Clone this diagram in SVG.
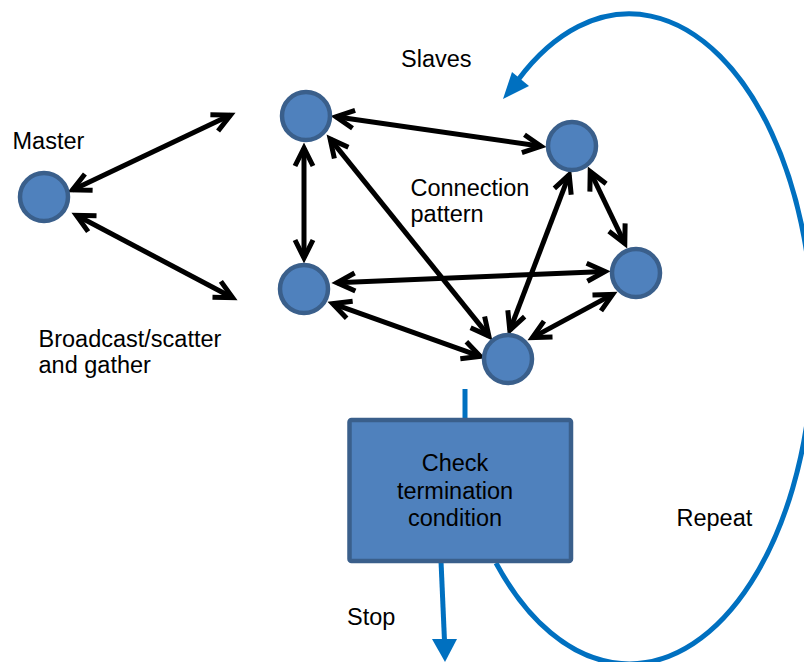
<svg xmlns="http://www.w3.org/2000/svg" width="804" height="662" viewBox="0 0 804 662">
<style>
  .node { fill: #4F81BD; stroke: #3A5F8B; stroke-width: 4.5; }
  .lbl { font-family: "Liberation Sans", Arial, sans-serif; font-size: 23.5px; fill: #000; }
  .conn { stroke: #000; stroke-width: 5; fill: none; marker-start: url(#ah); marker-end: url(#ah); }
  .flow { stroke: #0070C0; stroke-width: 5; fill: none; }
</style>
<defs>
  <marker id="ah" viewBox="-24 -13 32 26" refX="0" refY="0" markerWidth="32" markerHeight="26" markerUnits="userSpaceOnUse" orient="auto-start-reverse">
    <path d="M-18,-9 L0,0 L-18,9" fill="none" stroke="#000" stroke-width="5"/>
  </marker>
</defs>
<rect width="804" height="662" fill="#fff"/>

<g id="connectors">
  <line class="conn" x1="72.5" y1="189.9" x2="230.5" y2="115.1"/>
  <line class="conn" x1="76.4" y1="215.3" x2="232.6" y2="297.7"/>
  <line class="conn" x1="336" y1="116.7" x2="541" y2="146.3"/>
  <line class="conn" x1="304" y1="148" x2="304" y2="258"/>
  <line class="conn" x1="330.1" y1="138.9" x2="488.9" y2="336.1"/>
  <line class="conn" x1="569.2" y1="174.7" x2="509.8" y2="330.3"/>
  <line class="conn" x1="590.2" y1="171.5" x2="624.8" y2="243.5"/>
  <line class="conn" x1="337" y1="282.8" x2="605" y2="271.5"/>
  <line class="conn" x1="332.7" y1="303.7" x2="480.3" y2="356.3"/>
  <line class="conn" x1="612.6" y1="294.4" x2="532.4" y2="337.6"/>
  <line class="flow" x1="465" y1="389" x2="465" y2="420"/>
  <line class="flow" x1="441" y1="561" x2="444.5" y2="641"/>
  <polygon points="432,639 457,639 445,662" fill="#0070C0"/>
  <path class="flow" d="M 496 563 A 184 325 0 1 0 518 80"/>
  <polygon points="503,99 512,72 529,86" fill="#0070C0"/>
</g>

<g id="master">
  <circle class="node" cx="44" cy="197" r="24"/>
  <text class="lbl" x="12.5" y="149">Master</text>
</g>
<g id="slave-a"><circle class="node" cx="306" cy="116" r="24"/></g>
<g id="slave-b"><circle class="node" cx="572" cy="146" r="24"/></g>
<g id="slave-c"><circle class="node" cx="636" cy="273" r="24"/></g>
<g id="slave-d"><circle class="node" cx="304" cy="289" r="24"/></g>
<g id="slave-e"><circle class="node" cx="508" cy="359" r="24"/></g>

<g id="check">
  <rect x="349.5" y="420" width="221.5" height="141" rx="2" fill="#4F81BD" stroke="#3A5F8B" stroke-width="4.5"/>
  <text class="lbl" x="455" y="471" text-anchor="middle">Check</text>
  <text class="lbl" x="455" y="499" text-anchor="middle">termination</text>
  <text class="lbl" x="455" y="526" text-anchor="middle">condition</text>
</g>

<g id="labels">
  <text class="lbl" x="401" y="67">Slaves</text>
  <text class="lbl" x="410.5" y="196">Connection</text>
  <text class="lbl" x="410.5" y="222">pattern</text>
  <text class="lbl" x="38.5" y="347">Broadcast/scatter</text>
  <text class="lbl" x="38.5" y="373">and gather</text>
  <text class="lbl" x="676.5" y="526">Repeat</text>
  <text class="lbl" x="347" y="625">Stop</text>
</g>
</svg>
